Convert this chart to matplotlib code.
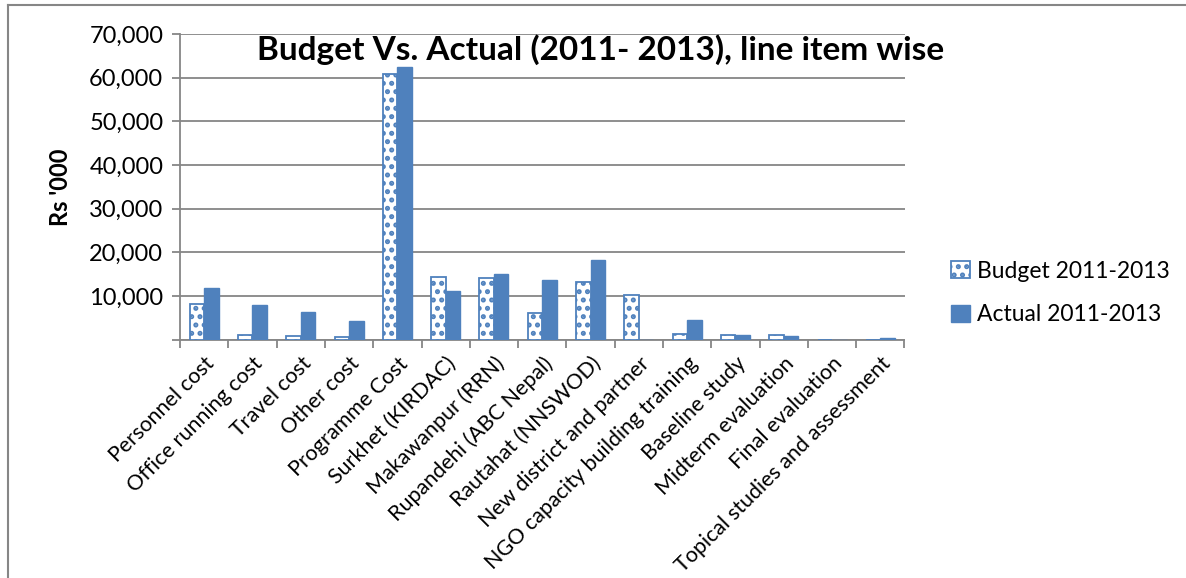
import matplotlib
matplotlib.use('Agg')
import matplotlib.pyplot as plt
from matplotlib.lines import Line2D
from matplotlib.patches import Patch
import numpy as np

plt.rcParams['font.family'] = ['Lato', 'DejaVu Sans']
plt.rcParams['hatch.linewidth'] = 2.4

categories = ['Personnel cost', 'Office running cost', 'Travel cost', 'Other cost',
              'Programme Cost', 'Surkhet (KIRDAC)', 'Makawanpur (RRN)',
              'Rupandehi (ABC Nepal)', 'Rautahat (NNSWOD)', 'New district and partner',
              'NGO capacity building training', 'Baseline study', 'Midterm evaluation',
              'Final evaluation', 'Topical studies and assessment']
budget = [8200, 1100, 800, 600, 60800, 14400, 14200, 6000, 13100, 10100, 1300, 1000, 1100, 0, 0]
actual = [11800, 8000, 6200, 4200, 62500, 11000, 14900, 13600, 18200, 0, 4500, 1000, 700, 0, 400]

blue = '#4F81BD'
grey = '#868686'

fig = plt.figure(figsize=(11.86, 5.78), dpi=100)
ax = fig.add_axes([180 / 1186, 1 - 339.5 / 578, 724.5 / 1186, 305.5 / 578])

x = np.arange(len(categories))
w = 0.30
ax.bar(x - w / 2, budget, w, color='white', edgecolor=blue, hatch='..',
       linewidth=1.3, zorder=3)
ax.bar(x + w / 2, actual, w, color=blue, edgecolor=blue, linewidth=1.0, zorder=3)

ax.set_xlim(-0.5, len(categories) - 0.5)
ax.set_ylim(0, 70000)
ax.set_yticks(np.arange(0, 70001, 10000))
ax.set_yticklabels(['' if v == 0 else f'{v:,}' for v in range(0, 70001, 10000)])
ax.yaxis.grid(True, color=grey, linewidth=1.3, zorder=0)
ax.set_axisbelow(True)

ax.set_xticks(x)
ax.set_xticklabels(categories, rotation=45, ha='right', rotation_mode='anchor')
ax.set_xticks(np.arange(-0.5, len(categories)), minor=True)
ax.tick_params(axis='x', which='major', length=0, pad=10, labelsize=15.5)
ax.tick_params(axis='x', which='minor', length=6, width=1.3, color=grey, direction='out')
ax.tick_params(axis='y', length=6, width=1.3, color=grey, labelsize=17, pad=6)

for side in ('top', 'right'):
    ax.spines[side].set_visible(False)
for side in ('left', 'bottom'):
    ax.spines[side].set_color(grey)
    ax.spines[side].set_linewidth(1.3)

fig.text(601 / 1186, 1 - 50 / 578, 'Budget Vs. Actual (2011- 2013), line item wise',
         ha='center', va='center', fontsize=24, fontweight='bold')
fig.text(60 / 1186, 1 - 187 / 578, "Rs '000", rotation=90, ha='center', va='center',
         fontsize=17, fontweight='bold')

handles = [Patch(facecolor='white', edgecolor=blue, hatch='..', linewidth=1.3),
           Patch(facecolor=blue, edgecolor=blue)]
fig.legend(handles, ['Budget 2011-2013', 'Actual 2011-2013'],
           loc='center left', bbox_to_anchor=(940 / 1186, 1 - 293 / 578),
           frameon=False, fontsize=16.5, handlelength=0.8, handleheight=0.8,
           handletextpad=0.3, labelspacing=1.0, borderpad=0)

# chart frame
fig.add_artist(Line2D([7.5 / 1186, 7.5 / 1186], [0, 1 - 5 / 578], color=grey, linewidth=1.5))
fig.add_artist(Line2D([7.5 / 1186, 1], [1 - 5 / 578, 1 - 5 / 578], color=grey, linewidth=1.5))

fig.savefig('out.png', dpi=100)
